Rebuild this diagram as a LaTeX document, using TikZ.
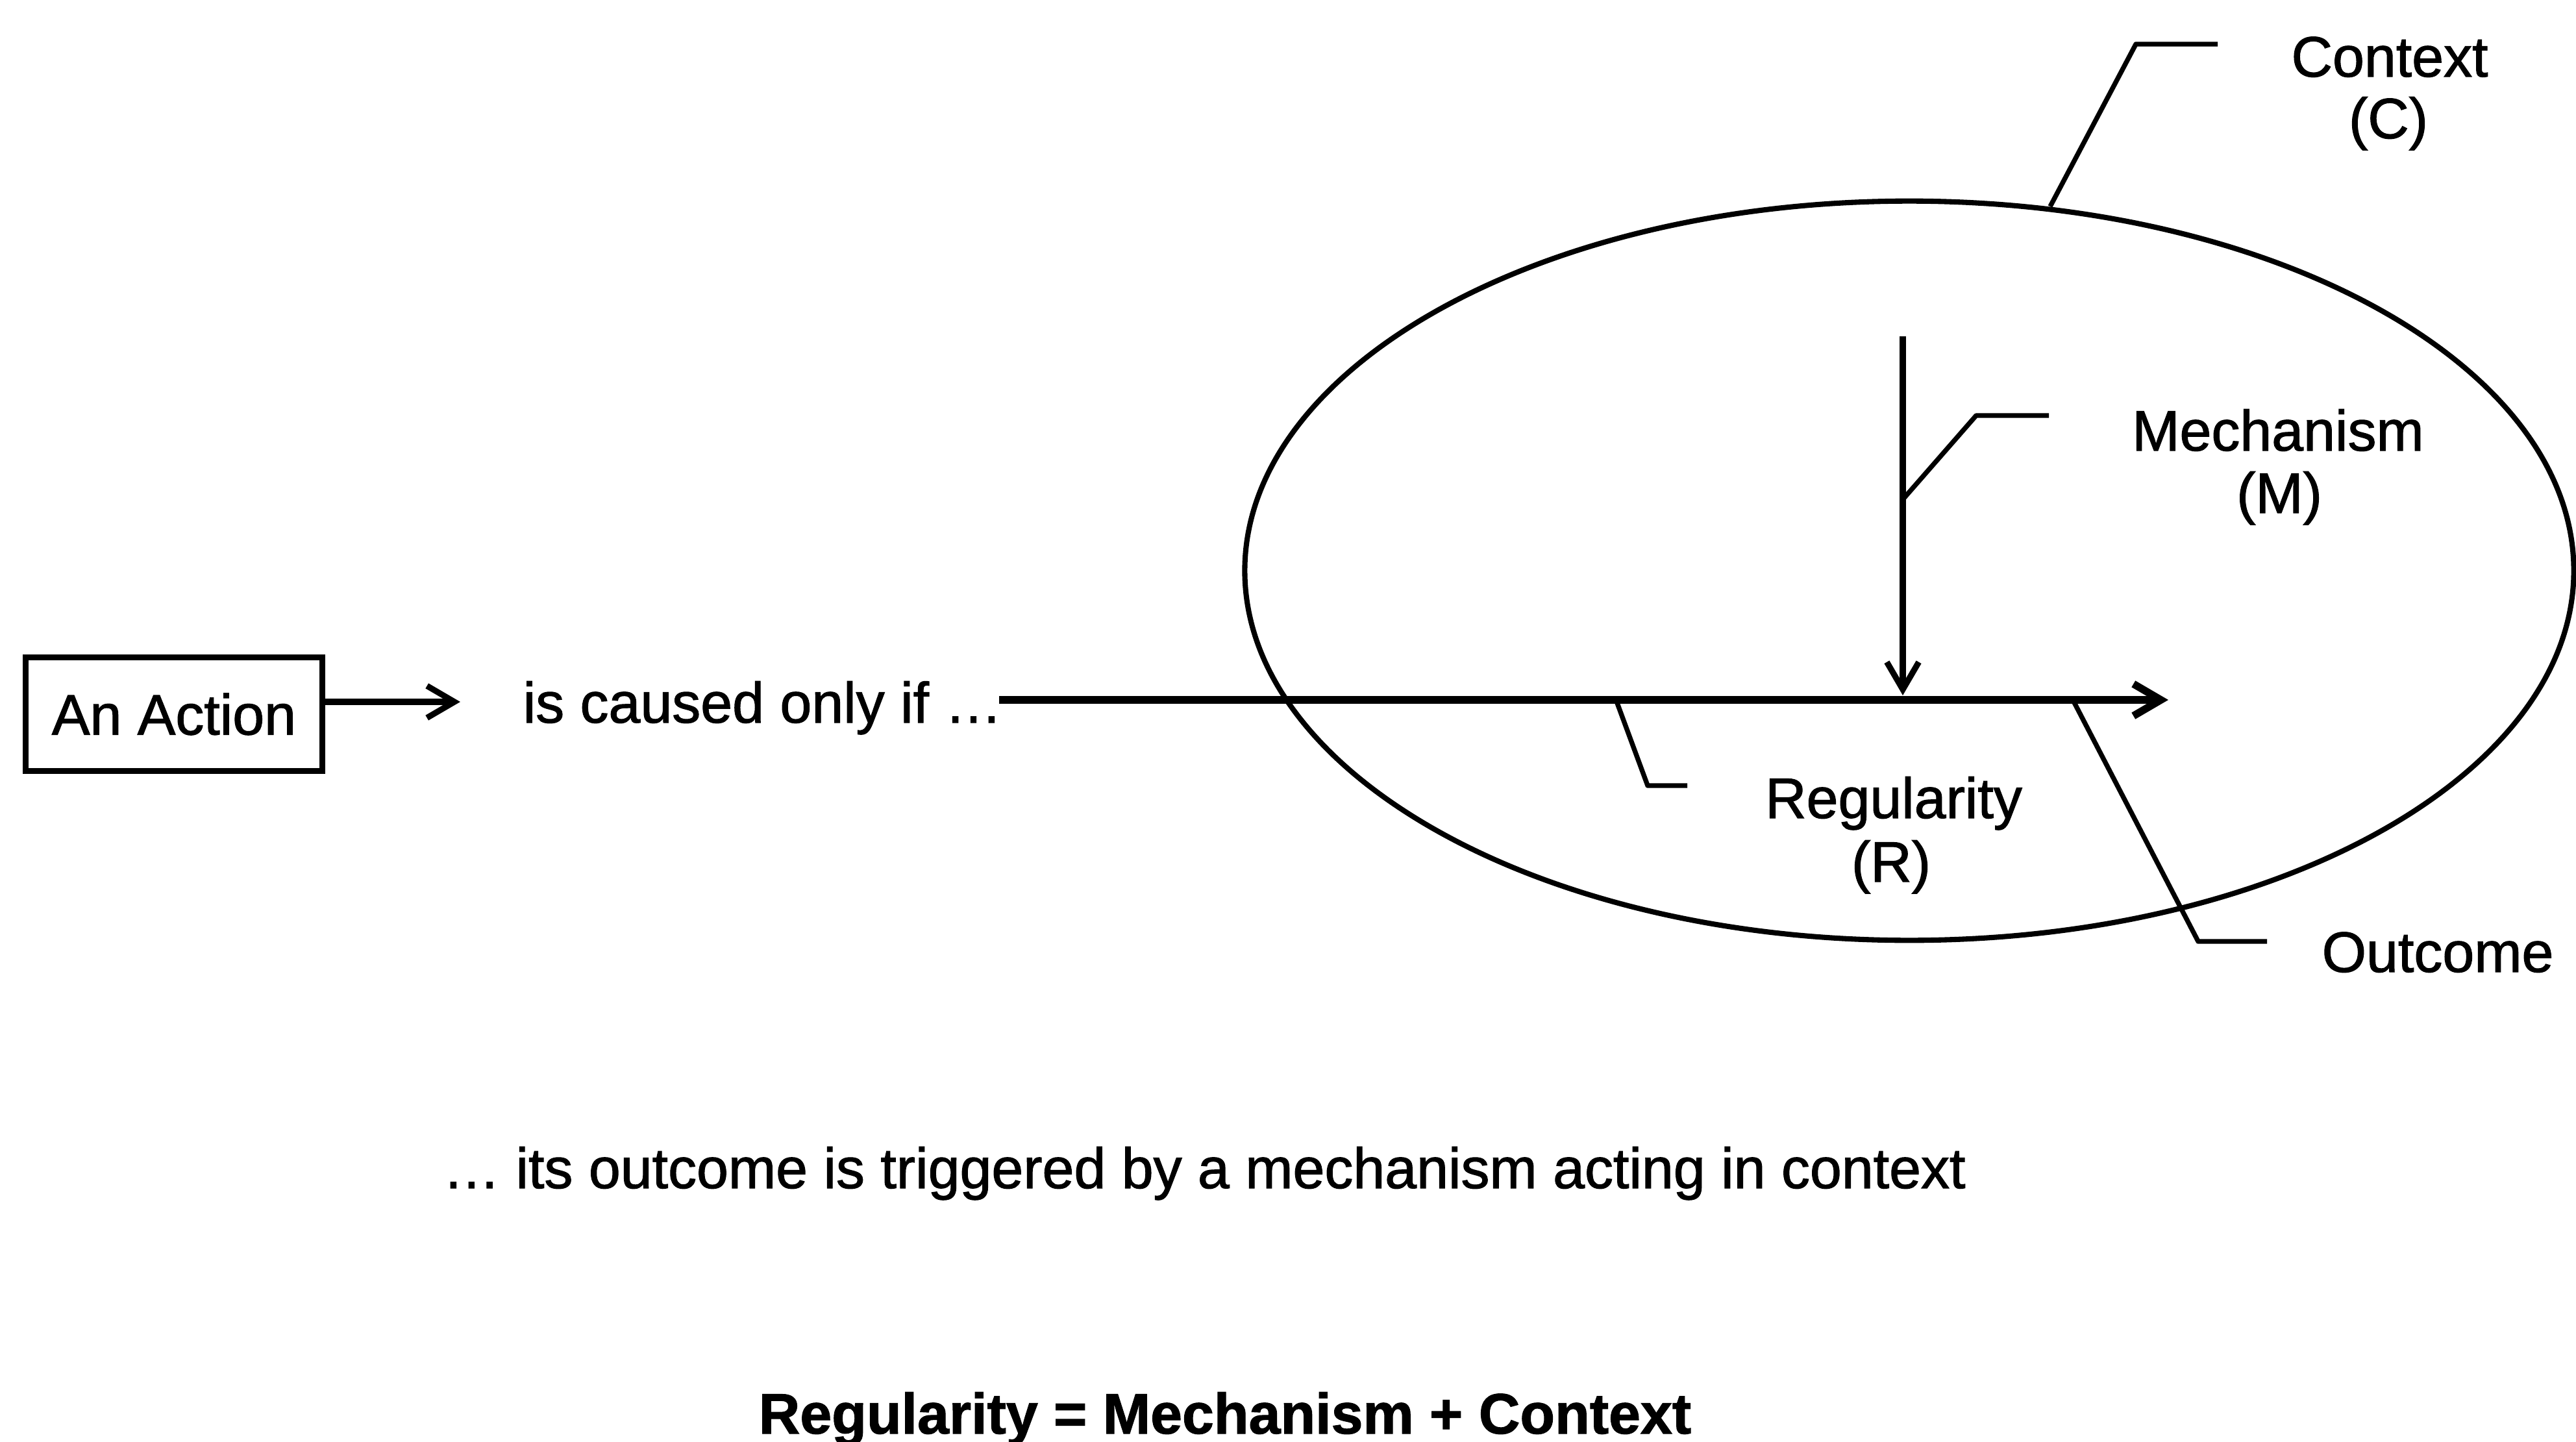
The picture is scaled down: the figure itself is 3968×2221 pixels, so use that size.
\documentclass[tikz,border=0pt]{standalone}
\usepackage{fontspec}
\setmainfont{Liberation Sans}
\newfontfamily\lblfont{Liberation Sans}[FakeBold=1.3]
\newfontfamily\eqfont{Liberation Sans Bold}[FakeBold=1.3]
\usetikzlibrary{arrows.meta,shapes.geometric}
\begin{document}
\begin{tikzpicture}[x=0.01cm,y=-0.01cm,
  lbl/.style={font=\fontsize{25pt}{28pt}\lblfont, inner sep=0pt, anchor=base},
  lead/.style={line width=2.1pt, line join=round},
  barb/.style={-{Straight Barb[length=12pt,width=14pt]}},
  actbox/.style={draw, line width=2.6pt, minimum width=4.56cm, minimum height=1.75cm, inner sep=0pt, font=\fontsize{25pt}{28pt}\lblfont},
  ctxell/.style={draw, ellipse, line width=2.3pt, minimum width=20.46cm, minimum height=11.38cm, inner sep=0pt}
]
\useasboundingbox (0,0) rectangle (3968,2221);

% ellipse (context)
\node[ctxell] (ctx) at (2941,879) {};

% action box and its arrow
\node[actbox] (act) at (268,1100) {An Action};
\coordinate (a1) at (709,1081);
\draw[barb, line width=2.6pt] (act.east |- a1) -- (a1);

\node[lbl, anchor=base west] (cause) at (805,1113) {is caused only if \ldots};

% main regularity line
\coordinate (m0) at (1539,1078);
\coordinate (m1) at (3340,1078);
\draw[barb, line width=3.3pt] (m0) -- (m1);

% mechanism arrow
\coordinate (v0) at (2931,518);
\coordinate (v1) at (2931,1071);
\draw[barb, line width=2.6pt] (v0) -- (v1);

% labels
\node[lbl] (ctxA) at (3681,118) {Context};
\node[lbl] (ctxB) at (3679,213) {(C)};
\node[lbl] (mechA) at (3509,694) {Mechanism};
\node[lbl] (mechB) at (3511,790) {(M)};
\node[lbl] (regA) at (2917,1260) {Regularity};
\node[lbl] (regB) at (2913,1358) {(R)};
\node[lbl] (out) at (3755,1497) {Outcome};

% leader lines
\coordinate (lc0) at (3158,318);
\coordinate (lc1) at (3290,68);
\coordinate (lc2) at (3416,68);
\draw[lead] (lc0) -- (lc1) -- (lc2);

\coordinate (lm0) at (2933,767);
\coordinate (lm1) at (3044,640);
\coordinate (lm2) at (3156,640);
\draw[lead] (lm0) -- (lm1) -- (lm2);

\coordinate (lr0) at (2490,1080);
\coordinate (lr1) at (2538,1210);
\coordinate (lr2) at (2599,1210);
\draw[lead] (lr0) -- (lr1) -- (lr2);

\coordinate (lo0) at (3194,1080);
\coordinate (lo1) at (3386,1450);
\coordinate (lo2) at (3492,1450);
\draw[lead] (lo0) -- (lo1) -- (lo2);

% bottom texts
\node[lbl] (expl) at (1855,1830) {\ldots\ its outcome is triggered by a mechanism acting in context};
\node[lbl, font=\fontsize{25pt}{28pt}\eqfont] (eq) at (1887,2208) {Regularity = Mechanism + Context};
\end{tikzpicture}
\end{document}
